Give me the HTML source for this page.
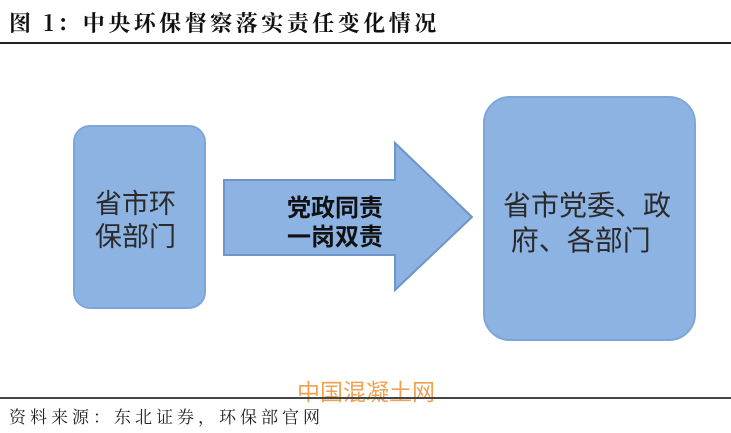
<!DOCTYPE html>
<html><head><meta charset="utf-8"><style>
body{margin:0;width:731px;height:433px;background:#fff;position:relative;overflow:hidden;font-family:"Liberation Sans","Noto Sans CJK SC",sans-serif}
.t{position:absolute;white-space:nowrap}
</style></head><body>
<div class="t" style="left:9px;top:7px;font-family:'Noto Serif CJK SC',serif;font-weight:bold;font-size:22px;color:#111;letter-spacing:3.5px">图 1：中央环保督察落实责任变化情况</div>
<div style="position:absolute;left:0;top:42px;width:731px;height:2px;background:#222"></div>
<svg width="731" height="433" style="position:absolute;left:0;top:0">
<rect x="74" y="126" width="131" height="182" rx="16" fill="#8db3e2" stroke="#7fa6d8" stroke-width="2"/>
<rect x="484" y="97" width="211" height="243" rx="26" fill="#8db3e2" stroke="#7fa6d8" stroke-width="2"/>
<polygon points="224,180 395,180 395,143 472,217 395,290 395,255 224,255" fill="#8db3e2" stroke="#6f95c8" stroke-width="2"/>
</svg>
<div class="t" style="left:95px;top:188px;font-size:27px;line-height:33px;color:#2a2a2a">省市环<br>保部门</div>
<div class="t" style="left:287px;top:194px;font-size:24px;line-height:29px;font-weight:bold;color:#111">党政同责<br>一岗双责</div>
<div class="t" style="left:503px;top:188px;font-size:28px;line-height:35px;color:#2a2a2a">省市党委、政<br>&nbsp;府、各部门</div>
<div class="t" style="left:297px;top:373px;font-size:23px;color:#f0a050">中国混凝土网</div>
<div style="position:absolute;left:0;top:397px;width:731px;height:2px;background:#444"></div>
<div class="t" style="left:9px;top:403px;font-size:17px;color:#222;letter-spacing:4px;font-family:'Noto Serif CJK SC',serif">资料来源：东北证券，环保部官网</div>
</body></html>
